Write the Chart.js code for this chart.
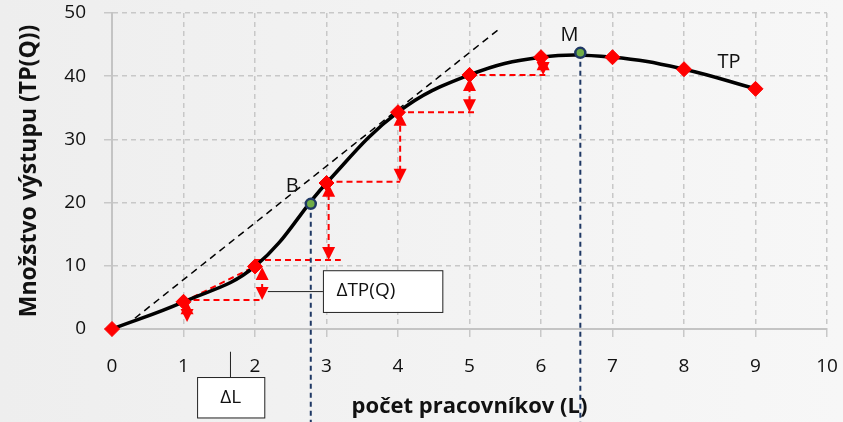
<!DOCTYPE html>
<html>
<head>
<meta charset="utf-8">
<script src="https://cdn.jsdelivr.net/npm/chart.js@4.4.0/dist/chart.umd.min.js"></script>
<style>
html, body { margin: 0; padding: 0; background: #f1f1f1; }
</style>
</head>
<body>
<canvas id="graf" width="843" height="422"></canvas>
<script>
// údaje
const pracovnici = [0, 1, 2, 3, 4, 5, 6, 7, 8, 9];
const tp = [0, 4.3, 9.9, 23.1, 34.3, 40.2, 43, 43, 41.1, 38];

// body B a M
const bodB = { x: 2.78, y: 19.8 };
const bodM = { x: 6.55, y: 43.7 };

// dotyčnica
const dotycnicaX = [0.32, 5.43];
const dotycnicaY = [1.7, 47.6];

// prírastky (červené šípky)
const sipkyX = [1.05, 2.1, 3.03, 4.03, 5.0, 6.03];
const sipkyOd = [1.1, 4.6, 10.9, 23.3, 34.3, 40.2];
const sipkyDo = [4.4, 9.8, 23.0, 34.2, 39.7, 43.0];

// vodorovné čiary
const vodY = [4.6, 10.9, 23.3, 34.3, 40.2];
const vodOd = [1, 2, 3, 4, 5];
const vodDo = [2.11, 3.2, 4.03, 5.1, 6.06];

const tpBody = pracovnici.map((x, i) => ({ x: x, y: tp[i] }));

const pozadie = {
    id: 'pozadie',
    beforeDraw(chart) {
        const c = chart.ctx;
        const g = c.createLinearGradient(0, 0, chart.width, 0);
        g.addColorStop(0, '#eeeeee');
        g.addColorStop(1, '#f7f7f7');
        c.save();
        c.fillStyle = g;
        c.fillRect(0, 0, chart.width, chart.height);
        c.restore();
    }
};

// os bez čiarkovania
const osi = {
    id: 'osi',
    beforeDatasetsDraw(chart) {
        const c = chart.ctx, a = chart.chartArea;
        c.save();
        c.strokeStyle = '#c4c4c4';
        c.lineWidth = 2;
        c.beginPath();
        c.moveTo(a.left, a.top);
        c.lineTo(a.left, a.bottom);
        c.lineTo(a.right, a.bottom);
        c.stroke();
        c.restore();
    }
};

function hlavicka(c, x, y, smer) {
    // smer -1 = hore, 1 = dole; (x,y) je hrot
    c.beginPath();
    c.moveTo(x, y);
    c.lineTo(x - 6.5, y - smer * 13);
    c.lineTo(x + 6.5, y - smer * 13);
    c.closePath();
    c.fill();
}

const popisy = {
    id: 'popisy',
    beforeDatasetsDraw(chart) {
        const c = chart.ctx;
        const sx = chart.scales.x, sy = chart.scales.y;
        c.save();
        c.strokeStyle = '#ff0000';
        c.lineWidth = 2;
        c.setLineDash([6, 4]);
        // sečnica 1 -> 2
        c.beginPath();
        c.moveTo(sx.getPixelForValue(1), sy.getPixelForValue(tp[1]));
        c.lineTo(sx.getPixelForValue(2), sy.getPixelForValue(tp[2]));
        c.stroke();
        vodY.forEach((v, i) => {
            c.beginPath();
            c.moveTo(sx.getPixelForValue(vodOd[i]), sy.getPixelForValue(v));
            c.lineTo(sx.getPixelForValue(vodDo[i]), sy.getPixelForValue(v));
            c.stroke();
        });
        c.restore();
    },
    afterDatasetsDraw(chart) {
        const c = chart.ctx;
        const sx = chart.scales.x, sy = chart.scales.y;
        c.save();
        c.strokeStyle = '#ff0000';
        c.fillStyle = '#ff0000';
        c.lineWidth = 2;
        sipkyX.forEach((v, i) => {
            const px = sx.getPixelForValue(v);
            const y1 = sy.getPixelForValue(sipkyOd[i]);
            const y2 = sy.getPixelForValue(sipkyDo[i]);
            c.setLineDash([6, 4]);
            c.beginPath();
            c.moveTo(px, y1 - 10);
            c.lineTo(px, y2 + 10);
            c.stroke();
            c.setLineDash([]);
            hlavicka(c, px, y2, -1);
            hlavicka(c, px, y1, 1);
        });
        c.restore();

        // body B a M
        c.save();
        [bodB, bodM].forEach(b => {
            c.beginPath();
            c.arc(sx.getPixelForValue(b.x), sy.getPixelForValue(b.y), 5, 0, Math.PI * 2);
            c.fillStyle = '#70ad47';
            c.fill();
            c.lineWidth = 2.5;
            c.strokeStyle = '#1f3864';
            c.stroke();
        });
        c.restore();

        // texty
        c.save();
        c.fillStyle = '#111';
        c.font = '20px "Open Sans"';
        c.textAlign = 'center';
        c.textBaseline = 'middle';
        c.fillText('B', sx.getPixelForValue(2.52), sy.getPixelForValue(22.6));
        c.fillText('M', sx.getPixelForValue(6.4), sy.getPixelForValue(46.5));
        c.fillText('TP', sx.getPixelForValue(8.63), sy.getPixelForValue(42.2));

        // rámčeky
        c.lineWidth = 1;
        c.strokeStyle = '#222';
        const ramik = (x0, y0, x1, y1, text, tx) => {
            const a = sx.getPixelForValue(x0), b = sy.getPixelForValue(y0);
            const w = sx.getPixelForValue(x1) - a, h = sy.getPixelForValue(y1) - b;
            c.fillStyle = '#ffffff';
            c.fillRect(a, b, w, h);
            c.strokeRect(a + 0.5, b + 0.5, w, h);
            c.fillStyle = '#111';
            c.font = '19px "Open Sans"';
            c.fillText(text, sx.getPixelForValue(tx), b + h / 2);
        };
        ramik(2.95, 9.3, 4.62, 2.7, 'ΔTP(Q)', 3.55);
        ramik(1.19, -7.6, 2.13, -14, 'ΔL', 1.66);
        c.beginPath();
        c.moveTo(sx.getPixelForValue(2.18), sy.getPixelForValue(6.0) + 0.5);
        c.lineTo(sx.getPixelForValue(2.95), sy.getPixelForValue(6.0) + 0.5);
        c.moveTo(sx.getPixelForValue(1.65) + 0.5, sy.getPixelForValue(-3.6));
        c.lineTo(sx.getPixelForValue(1.65) + 0.5, sy.getPixelForValue(-7.6));
        c.stroke();
        c.restore();
    }
};

new Chart(document.getElementById('graf'), {
    type: 'scatter',
    data: {
        datasets: [
            {
                label: 'dotyčnica',
                data: dotycnicaX.map((x, i) => ({ x: x, y: dotycnicaY[i] })),
                showLine: true,
                borderColor: '#000000',
                borderWidth: 1.5,
                borderDash: [7, 5],
                pointRadius: 0,
                order: 5
            },
            {
                label: 'B',
                data: [{ x: bodB.x, y: bodB.y }, { x: bodB.x, y: -16 }],
                showLine: true,
                borderColor: '#1f3864',
                borderWidth: 2,
                borderDash: [5, 4],
                pointRadius: 0,
                clip: false,
                order: 4
            },
            {
                label: 'M',
                data: [{ x: bodM.x, y: bodM.y }, { x: bodM.x, y: -16 }],
                showLine: true,
                borderColor: '#1f3864',
                borderWidth: 2,
                borderDash: [5, 4],
                pointRadius: 0,
                clip: false,
                order: 4
            },
            {
                label: 'TP',
                data: tpBody,
                showLine: true,
                tension: 0.4,
                borderColor: '#000000',
                borderWidth: 3.5,
                pointStyle: 'rectRot',
                pointRadius: 7.5,
                pointBackgroundColor: '#ff0000',
                pointBorderColor: '#ff0000',
                pointBorderWidth: 1,
                clip: false,
                order: 1
            }
        ]
    },
    options: {
        responsive: false,
        animation: false,
        layout: { padding: { left: 0, right: 16, top: 13, bottom: 0 } },
        plugins: {
            legend: { display: false },
            tooltip: { enabled: false }
        },
        scales: {
            x: {
                type: 'linear',
                min: 0,
                max: 10,
                afterFit: (s) => { s.height = 93; s.paddingLeft = 0; s.paddingRight = 0; },
                ticks: {
                    stepSize: 1,
                    padding: 18,
                    color: '#111',
                    font: { family: '"Open Sans"', size: 19 }
                },
                grid: {
                    color: '#c8c8c8',
                    lineWidth: 1.5,
                    tickLength: 8,
                    tickBorderDash: [],
                    tickColor: '#c8c8c8'
                },
                border: { color: '#c4c4c4', width: 2, dash: [5, 4] },
                title: {
                    display: true,
                    text: 'počet pracovníkov (L)',
                    color: '#111',
                    padding: { top: 0, bottom: 2 },
                    font: { family: '"Open Sans"', size: 22, weight: 'bold' }
                }
            },
            y: {
                min: 0,
                max: 50,
                afterFit: (s) => { s.width = 112; s.paddingTop = 0; s.paddingBottom = 0; },
                ticks: {
                    stepSize: 10,
                    padding: 18,
                    color: '#111',
                    font: { family: '"Open Sans"', size: 19 }
                },
                grid: {
                    color: '#c8c8c8',
                    lineWidth: 1.5,
                    tickLength: 8,
                    tickBorderDash: [],
                    tickColor: '#c8c8c8'
                },
                border: { color: '#c4c4c4', width: 2, dash: [5, 4] },
                title: {
                    display: true,
                    text: 'Množstvo výstupu (TP(Q))',
                    color: '#111',
                    padding: { top: 16, bottom: 0 },
                    font: { family: '"Open Sans"', size: 23, weight: 'bold' }
                }
            }
        }
    },
    plugins: [pozadie, osi, popisy]
});
</script>
</body>
</html>
